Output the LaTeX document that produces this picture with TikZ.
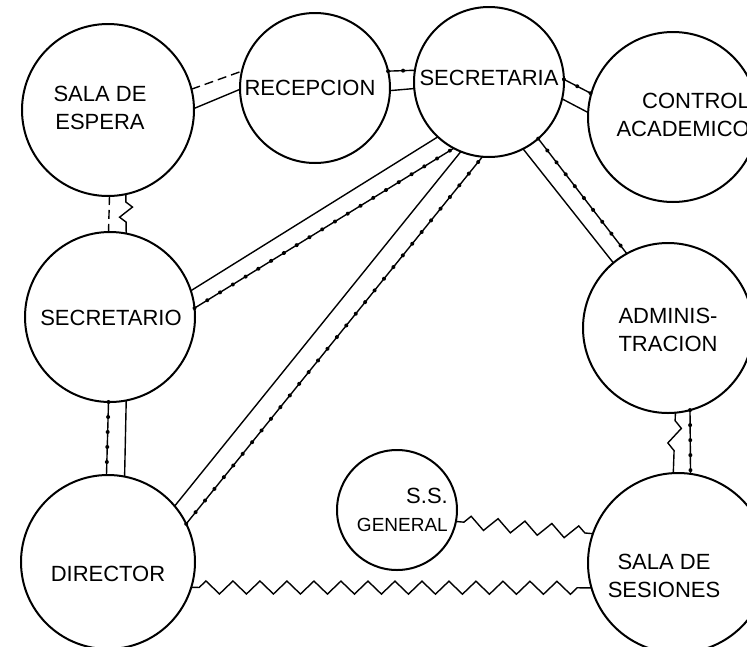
\documentclass[tikz,border=0pt]{standalone}
\usepackage{fontspec}
\setmainfont{Liberation Sans}
\usetikzlibrary{decorations.pathmorphing,decorations.markings}

\begin{document}
\begin{tikzpicture}[x=1pt, y=-1pt,
    area/.style={circle, draw, line width=2pt, fill=white, inner sep=0pt,
      outer sep=0pt, minimum size=#1},
    rotulo/.style={font=\fontsize{22}{28}\selectfont, align=center, inner sep=0pt},
    enlace/.style={line width=1.4pt},
    trazos/.style={line width=1.4pt, dash pattern=on 9pt off 5pt},
    punteo/.style={line width=1.4pt, postaction={decorate},
      decoration={markings, mark=between positions 0 and 1 step 15pt
        with {\fill (0,0) circle (2pt);}}},
    zig/.style={line width=1.4pt, decorate, decoration={zigzag,
      segment length=#1, amplitude=6.5pt, pre length=8pt, post length=8pt}},
    zig/.default=27pt]
  \useasboundingbox (0,0) rectangle (747,646);

  % Areas
  \node[area=172pt] (espera) at (108,110) {};
  \node[area=150pt] (recep) at (315,88) {};
  \node[area=150pt] (secria) at (489,82) {};
  \node[area=170pt] (control) at (673,117) {};
  \node[area=170pt] (secrio) at (110,317) {};
  \node[area=170pt] (admin) at (668,328) {};
  \node[area=174pt] (director) at (108,562) {};
  \node[area=120pt] (ssgen) at (397,510) {};
  \node[area=180pt] (sesiones) at (678,563) {};

  % Rotulos
  \node[rotulo] (t-espera) at (100,108) {SALA DE\\ESPERA};
  \node[rotulo] (t-recep) at (310,88) {RECEPCION};
  \node[rotulo] (t-secria) at (489,78) {SECRETARIA};
  \node[rotulo, anchor=east, align=right] (t-control) at (750,115) {CONTROL\\ACADEMICO};
  \node[rotulo] (t-secrio) at (111,318) {SECRETARIO};
  \node[rotulo] (t-admin) at (668,330) {ADMINIS-\\TRACION};
  \node[rotulo] (t-director) at (108,574) {DIRECTOR};
  \node[rotulo, anchor=east, align=right] (t-ssgen) at (448,510)
    {S.S.\\{\fontsize{19}{28}\selectfont GENERAL}};
  \node[rotulo] (t-sesiones) at (664,576) {SALA DE\\SESIONES};

  % Enlaces de la fila superior
  \draw[trazos] (espera.14) -- (recep.167);
  \draw[enlace] (espera.1) -- (recep.181);
  \draw[punteo] (recep.13) -- (secria.171);
  \draw[enlace] (recep.358) -- (secria.185);
  \draw[punteo] (secria.2) -- (control.164);
  \draw[enlace] (secria.347) -- (control.177);

  % Enlaces desde secretaria
  \draw[enlace] (secrio.18) -- (secria.227);
  \draw[punteo] (secrio.6) -- (secria.242);
  \draw[enlace] (director.40) -- (secria.248);
  \draw[punteo] (director.26) -- (secria.265);
  \draw[enlace] (secria.297) -- (admin.130);
  \draw[punteo] (secria.311) -- (admin.119);

  % Columna izquierda
  \draw[trazos] (espera.271) -- (secrio.91);
  \draw[zig=20pt] (espera.282) -- (secrio.79);
  \draw[punteo] (secrio.269) -- (director.91);
  \draw[enlace] (secrio.281) -- (director.79);

  % Columna derecha y fila inferior
  \draw[zig=30pt] (admin.275) -- (sesiones.93);
  \draw[punteo] (admin.285) -- (sesiones.82);
  \draw[zig] (ssgen.349) -- (sesiones.161);
  \draw[zig] (director.343) -- (sesiones.196);
\end{tikzpicture}
\end{document}
